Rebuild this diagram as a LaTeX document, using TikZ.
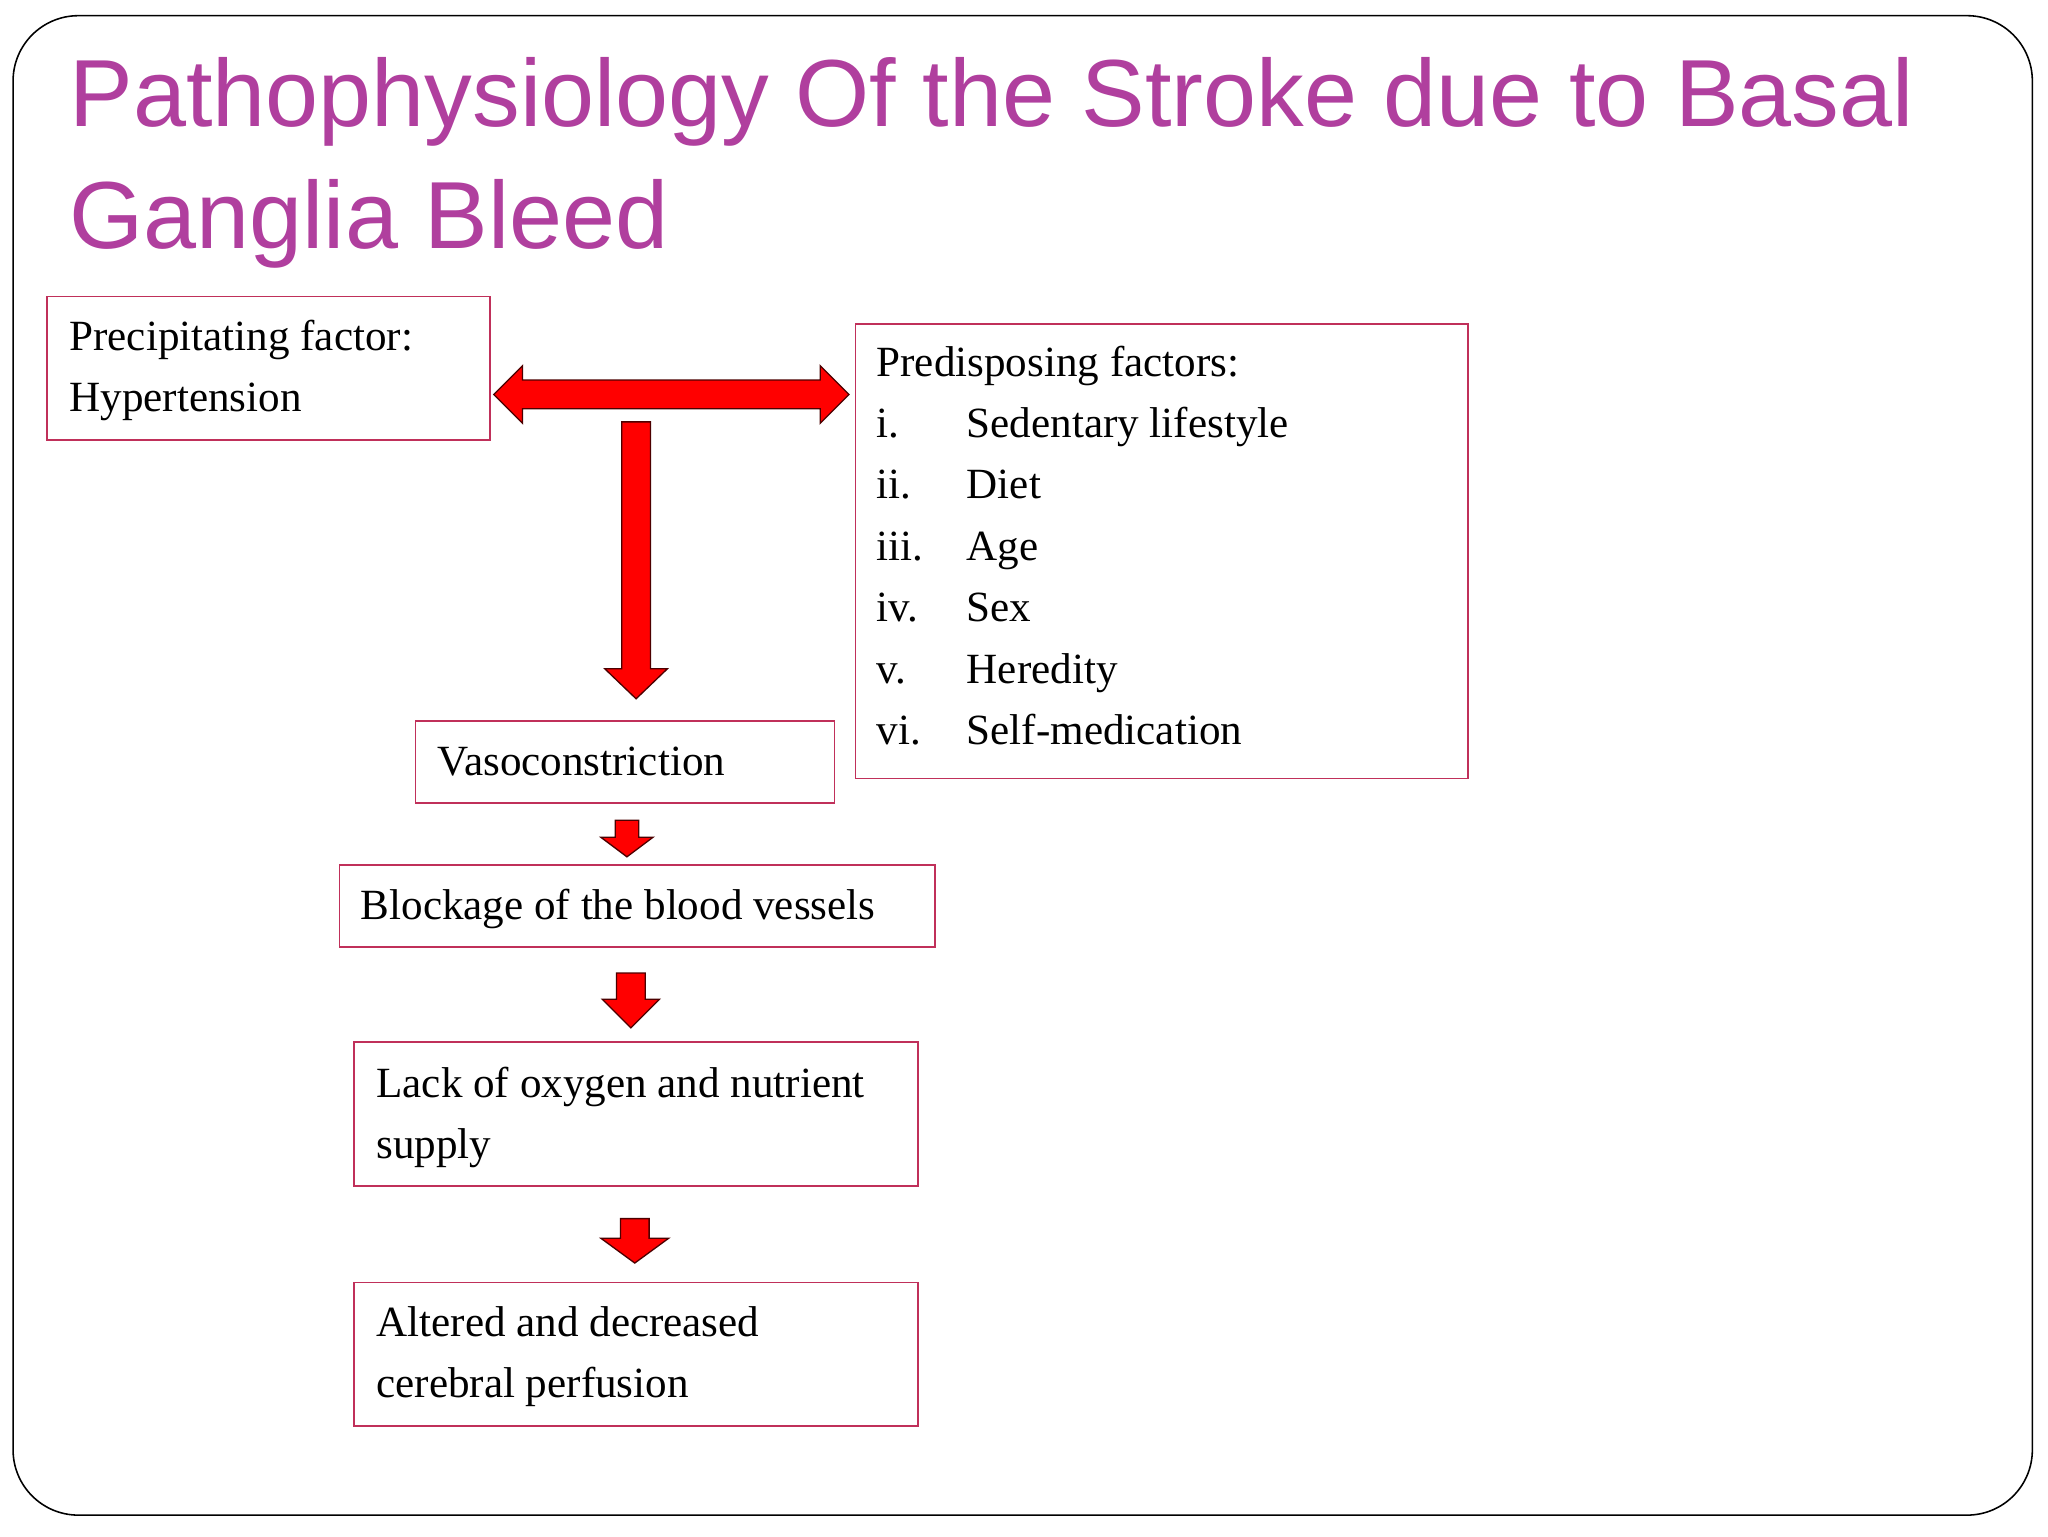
\documentclass[tikz,border=0pt]{standalone}
\usepackage{fontspec}
\setmainfont{Liberation Serif}
\newfontfamily\ttl{Liberation Sans}
\definecolor{ttlc}{HTML}{B03F9E}
\definecolor{boxc}{HTML}{C0305A}
\definecolor{arr}{HTML}{FF0000}
\begin{document}
\begin{tikzpicture}[x=1pt,y=-1pt,
  box/.style={draw=boxc,line width=1.3pt},
  txt/.style={anchor=base west,inner sep=0pt,font=\fontsize{33}{47}\selectfont},
  ar/.style={fill=arr,draw=black!70!red,line width=1pt,line join=miter}]
\useasboundingbox (0,0) rectangle (1568,1176);
\fill[white] (0,0) rectangle (1568,1176);
\draw[line width=1.2pt,rounded corners=50pt] (10,12) rectangle (1556,1160);
\node[anchor=base west,inner sep=0pt,text=ttlc,font=\ttl\fontsize{73}{73}\selectfont] (t1) at (53,97) {Pathophysiology Of the Stroke due to Basal};
\node[anchor=base west,inner sep=0pt,text=ttlc,font=\ttl\fontsize{73}{73}\selectfont] (t2) at (53,190) {Ganglia Bleed};
% boxes
\draw[box] (36,227) rectangle (375,337);
\draw[box] (655,248) rectangle (1124,596);
\draw[box] (318,552) rectangle (639,615);
\draw[box] (260,662) rectangle (716,725);
\draw[box] (271,798) rectangle (703,908);
\draw[box] (271,982) rectangle (703,1092);
% texts
\node[txt] (p1) at (53,268) {Precipitating factor:};
\node[txt] (p2) at (53,315) {Hypertension};
\node[txt] (d0) at (671,288) {Predisposing factors:};
\foreach \n/\t [count=\i] in {i./Sedentary lifestyle,ii./Diet,iii./Age,iv./Sex,v./Heredity,vi./Self-medication}{
  \node[txt] (n\i) at (671,288+47*\i) {\n};
  \node[txt] (e\i) at (740,288+47*\i) {\t};
}
\node[txt] (v) at (335,594) {Vasoconstriction};
\node[txt] (b) at (276,704) {Blockage of the blood vessels};
\node[txt] (l1) at (288,840) {Lack of oxygen and nutrient};
\node[txt] (l2) at (288,887) {supply};
\node[txt] (a1) at (288,1023) {Altered and decreased};
\node[txt] (a2) at (288,1070) {cerebral perfusion};
% double arrow
\draw[ar] (378,302) -- (400,280) -- (400,291) -- (628,291) -- (628,280) -- (650,302) -- (628,324) -- (628,313) -- (400,313) -- (400,324) -- cycle;
% down arrows
\draw[ar] (476,323) -- (498,323) -- (498,512) -- (511,512) -- (487,535) -- (463,512) -- (476,512) -- cycle;
\draw[ar] (471,628) -- (489,628) -- (489,641) -- (500,641) -- (480,656) -- (460,641) -- (471,641) -- cycle;
\draw[ar] (472,745) -- (494,745) -- (494,765) -- (505,765) -- (483,787) -- (461,765) -- (472,765) -- cycle;
\draw[ar] (475,933) -- (497,933) -- (497,948) -- (512,948) -- (486,967) -- (460,948) -- (475,948) -- cycle;
\end{tikzpicture}
\end{document}
